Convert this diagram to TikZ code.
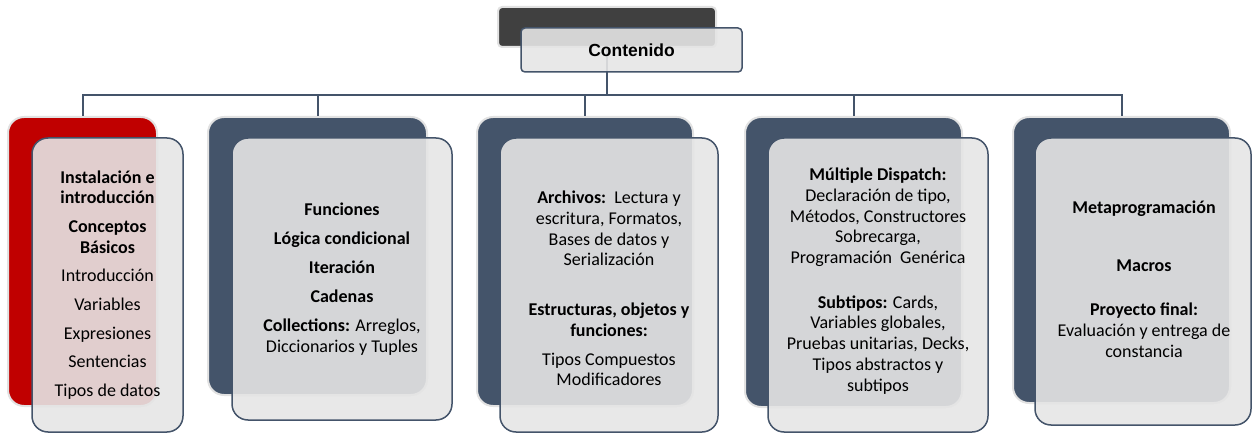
\documentclass[tikz,border=0pt]{standalone}
\usepackage{fontspec}
\setmainfont{Carlito}
\newfontfamily\headfont{Liberation Sans}
\usepackage{xcolor}
\definecolor{slate}{RGB}{68,84,106}
\definecolor{darkred}{RGB}{192,0,0}
\definecolor{charcoal}{RGB}{64,64,64}
\definecolor{paper}{RGB}{229,229,229}
\definecolor{halo}{RGB}{226,226,226}
\usepackage{tikz}
\usetikzlibrary{calc}
\newcommand{\parskipbox}{8pt}
\tikzset{
    box/.style={rectangle, inner sep=0pt, rounded corners=16pt},
    backbox/.style={box, fill=slate, draw=halo, line width=2pt},
    frontbox/.style={box, fill=paper, fill opacity=0.9, text opacity=1, draw=slate, line width=1.5pt},
    headback/.style={backbox, fill=charcoal, rounded corners=4pt},
    headfront/.style={frontbox, rounded corners=4pt, font=\headfont\bfseries\fontsize{17.5}{20}\selectfont},
    conn/.style={draw=slate, line width=2pt},
    topic/.style={align=center, inner sep=0pt, font=\fontsize{18}{20.7}\selectfont}
}

\begin{document}
\begin{tikzpicture}[x=1pt, y=-1pt]
    \useasboundingbox (0,0) rectangle (1253,433);

    \node[headback, minimum width=218pt, minimum height=40pt] (head-back) at (607,27) {};

    \foreach \n/\cx/\cy/\w/\h/\c in {1/82.5/261.5/149/289/darkred, 2/317.5/256/219/278/slate,
        3/585/261.5/216/289/slate, 4/853.5/262/217/290/slate, 5/1121.5/260/217/286/slate}
        \node[backbox, fill=\c, minimum width=\w pt, minimum height=\h pt] (back-\n) at (\cx,\cy) {};

    \coordinate (bus) at (0,95);
    \foreach \n in {1,...,5}
        \draw[conn] (head-back.south) -- (head-back.south |- bus) -| (back-\n.north);

    \foreach \n/\cx/\cy/\w/\h in {1/107.5/285/151/294, 2/342/279/220/282,
        3/609/285/218/294, 4/878/285/220/294, 5/1143/281.5/216/287}
        \node[frontbox, minimum width=\w pt, minimum height=\h pt] (front-\n) at (\cx,\cy) {};

    \node[headfront, minimum width=221pt, minimum height=44pt] (head) at (631.5,50) {Contenido};

    \node[topic] (topic-1) at (107.5,285) {\textbf{Instalación e}\\\textbf{introducción}\\[\parskipbox]
        \textbf{Conceptos}\\\textbf{Básicos}\\[\parskipbox]Introducción\\[\parskipbox]Variables\\[\parskipbox]
        Expresiones\\[\parskipbox]Sentencias\\[\parskipbox]Tipos de datos};
    \node[topic] (topic-2) at (342,279) {\textbf{Funciones}\\[\parskipbox]\textbf{Lógica condicional}\\[\parskipbox]
        \textbf{Iteración}\\[9pt]\textbf{Cadenas}\\[\parskipbox]\textbf{Collections:} Arreglos,\\Diccionarios y Tuples};
    \node[topic] (topic-3) at (609,288.5) {\textbf{Archivos:}\ \ Lectura y\\escritura, Formatos,\\Bases de datos y\\
        Serialización\\[29pt]\textbf{Estructuras, objetos y}\\\textbf{funciones:}\\[\parskipbox]Tipos Compuestos\\Modificadores};
    \node[topic] (topic-4) at (878,281) {\textbf{Múltiple Dispatch:}\\Declaración de tipo,\\Métodos, Constructores\\
        Sobrecarga,\\Programación\ \ Genérica\\[24pt]\textbf{Subtipos:} Cards,\\Variables globales,\\
        Pruebas unitarias, Decks,\\Tipos abstractos y\\subtipos};
    \node[topic] (topic-5) at (1144,279) {\textbf{Metaprogramación}\\[37pt]\textbf{Macros}\\[24pt]
        \textbf{Proyecto final:}\\Evaluación y entrega de\\constancia};
\end{tikzpicture}
\end{document}
